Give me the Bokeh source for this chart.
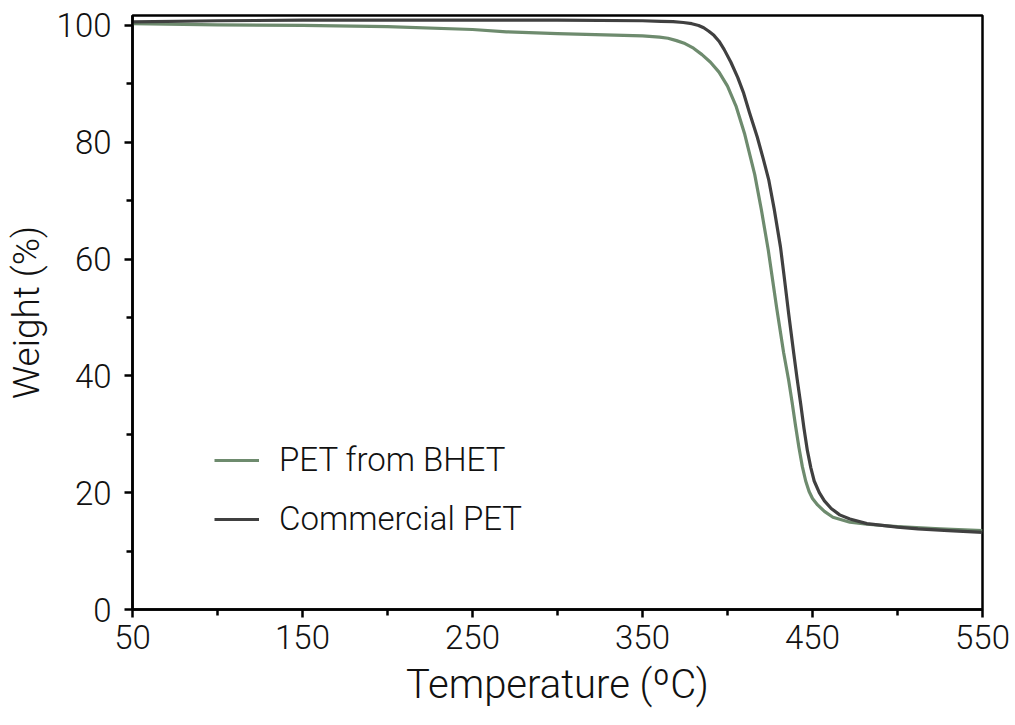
from bokeh.plotting import figure
from bokeh.models import Legend, LegendItem, FixedTicker, Range1d
from bokeh.embed import file_html
from bokeh.resources import INLINE

# ---- data ----
temp_bhet = [50, 100, 150, 200, 250, 270, 300, 350, 360, 365, 370, 375, 380, 385,
             390, 395, 400, 405, 410, 416, 420, 424, 429, 433, 436, 438, 440, 442,
             444, 446, 448, 450, 453, 457, 462, 472, 482, 500, 525, 550]
weight_bhet = [100.3, 100.1, 100.0, 99.8, 99.3, 98.9, 98.6, 98.2, 98.0, 97.8, 97.4,
               96.9, 96.1, 95.0, 93.7, 92.0, 89.6, 86.2, 81.5, 74.5, 68.3, 61.5,
               51.5, 44.0, 39.2, 35.5, 31.5, 27.8, 24.5, 22.0, 20.2, 19.0, 17.9,
               16.8, 15.8, 14.95, 14.6, 14.2, 13.8, 13.5]

temp_comm = [50, 100, 150, 200, 250, 300, 350, 361, 368, 374, 379, 383, 386, 389,
             392, 395, 398, 402, 406, 409.5, 413, 417.5, 421, 424.3, 427.5, 431.2,
             433.5, 436, 439, 441, 443, 445, 447, 449, 451, 454, 457, 461, 466,
             472, 482, 500, 512, 530, 550]
weight_comm = [100.6, 100.8, 100.9, 100.9, 100.9, 100.9, 100.8, 100.7, 100.65, 100.5,
               100.3, 100.0, 99.6, 99.0, 98.3, 97.3, 95.9, 93.7, 91.1, 88.4, 85.0,
               80.9, 77.2, 73.5, 68.5, 62.0, 56.6, 50.6, 43.8, 39.4, 35.3, 31.0,
               27.2, 24.3, 22.0, 20.0, 18.6, 17.3, 16.2, 15.5, 14.7, 14.1, 13.8,
               13.5, 13.2]

x_ticks = [50, 150, 250, 350, 450, 550]
x_minor = [100, 200, 300, 400, 500]
y_ticks = [0, 20, 40, 60, 80, 100]
y_minor = [10, 30, 50, 70, 90]

series_names = ["PET from BHET", "Commercial PET"]
series_colors = ["#6e8b6e", "#404040"]

FONT = "Roboto Light"

p = figure(width=1015, height=725, output_backend="svg", toolbar_location=None,
           x_range=Range1d(50, 550), y_range=Range1d(0, 101.7),
           min_border_left=132, min_border_right=33, min_border_top=15,
           min_border_bottom=116)

p.xgrid.visible = False
p.ygrid.visible = False
p.outline_line_color = "black"
p.outline_line_width = 2.5
p.background_fill_color = "white"
p.border_fill_color = "white"

r1 = p.line(temp_bhet, weight_bhet, line_color=series_colors[0], line_width=3.2,
            line_join="round")
r2 = p.line(temp_comm, weight_comm, line_color=series_colors[1], line_width=3.2,
            line_join="round")

p.xaxis.ticker = FixedTicker(ticks=x_ticks, minor_ticks=x_minor)
p.yaxis.ticker = FixedTicker(ticks=y_ticks, minor_ticks=y_minor)

for ax in (p.xaxis[0], p.yaxis[0]):
    ax.axis_line_width = 2.5
    ax.axis_line_color = "black"
    ax.major_tick_line_width = 2.5
    ax.minor_tick_line_width = 2.5
    ax.major_tick_line_color = "black"
    ax.minor_tick_line_color = "black"
    ax.major_tick_out = 8
    ax.major_tick_in = 0
    ax.minor_tick_out = 6
    ax.minor_tick_in = 0
    ax.major_label_text_font = FONT
    ax.major_label_text_font_size = "33px"
    ax.major_label_text_color = "#111111"
    ax.axis_label_text_font = FONT
    ax.axis_label_text_font_style = "normal"
    ax.axis_label_text_color = "#111111"

p.xaxis.axis_label = "Temperature (ºC)"
p.yaxis.axis_label = "Weight (%)"
p.xaxis.axis_label_text_font_size = "40px"
p.yaxis.axis_label_text_font_size = "37px"
p.xaxis.major_label_standoff = 7
p.xaxis.axis_label_standoff = 9
p.yaxis.major_label_standoff = 13
p.yaxis.axis_label_standoff = 6

legend = Legend(items=[LegendItem(label=series_names[0], renderers=[r1]),
                       LegendItem(label=series_names[1], renderers=[r2])],
                location=(72, 61))
legend.border_line_alpha = 0
legend.background_fill_alpha = 0
legend.label_text_font = FONT
legend.label_text_font_size = "33px"
legend.label_text_color = "#111111"
legend.glyph_width = 45
legend.glyph_height = 38
legend.label_height = 38
legend.label_standoff = 20
legend.spacing = 20
legend.padding = 10
p.add_layout(legend, "center")

open("out.html", "w").write(file_html(p, INLINE))
